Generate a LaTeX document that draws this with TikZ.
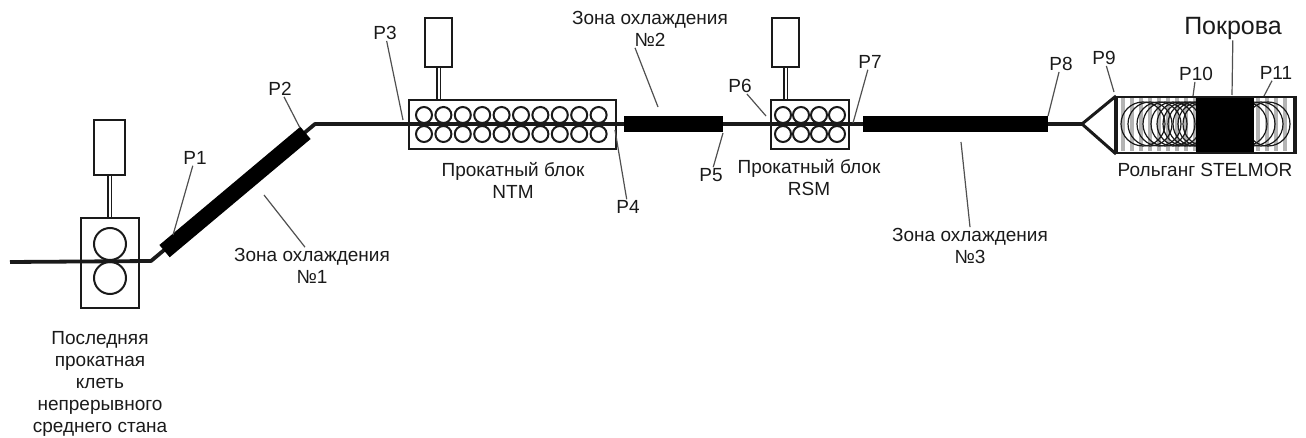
\documentclass[tikz,border=0pt]{standalone}
\usepackage{fontspec}
\setmainfont{Liberation Sans}
\usetikzlibrary{positioning,calc}
\definecolor{ink}{HTML}{1A1A1A}
\definecolor{leaderline}{HTML}{505050}
\definecolor{stripe}{HTML}{B4B4B4}
\tikzset{lbl/.style={font=\fontsize{19}{22}\selectfont,text=ink,align=center,inner sep=1pt},bigbl/.style={lbl,font=\fontsize{25}{28}\selectfont},blockbox/.style={draw=ink,line width=2pt,fill=white,inner sep=0pt,anchor=north west},motor/.style={blockbox},roll/.style={draw=ink,line width=2pt,circle,inner sep=0pt,minimum size=#1},zone/.style={draw=none,fill=black,inner sep=0pt},rod/.style={draw=ink,line width=3.8pt,line join=round},shaft/.style={draw=ink,line width=1.6pt,double=white,double distance=2pt},leader/.style={draw=leaderline,line width=1.2pt}}
\begin{document}
\begin{tikzpicture}[x=1pt,y=-1pt]
\useasboundingbox (0,0) rectangle (1306,438);
% stands and motors
\node[blockbox,minimum width=58pt,minimum height=90pt] (stand) at (80,217) {};
\node[blockbox,minimum width=207pt,minimum height=49pt] (ntm) at (408,99) {};
\node[blockbox,minimum width=78pt,minimum height=49pt] (rsm) at (770,99) {};
\node[motor,minimum width=31pt,minimum height=55pt] (motorA) at (93,119) {};
\node[motor,minimum width=27pt,minimum height=49pt] (motorB) at (424,17) {};
\node[motor,minimum width=27pt,minimum height=49pt] (motorC) at (771,17) {};
\draw[shaft] (motorA.south)--(motorA.south |- stand.north);
\draw[shaft] (motorB.south)--(motorB.south |- ntm.north);
\draw[shaft] (motorC.south)--(motorC.south |- rsm.north);
\node[roll=32pt] (rollA) at (110,244) {};
\node[roll=32pt] (rollB) at (110,278) {};
\foreach \i in {0,...,9}{
  \node[roll=16pt] (ntmt\i) at (424+19.4*\i,115) {};
  \node[roll=16pt] (ntmb\i) at (424+19.4*\i,134) {};
}
\foreach \i in {0,...,3}{
  \node[roll=16pt] (rsmt\i) at (783+18*\i,115) {};
  \node[roll=16pt] (rsmb\i) at (783+18*\i,134) {};
}
% rod and cooling zones
\coordinate (rodstart) at (10,262);
\coordinate (bendA) at (151,261);
\coordinate (bendB) at (315,124);
\coordinate (conetip) at (1082,124);
\draw[rod] (rodstart)--(bendA)--(bendB)--(conetip);
\node[zone,minimum width=184pt,minimum height=16pt,rotate=40] (zoneA) at (235,192) {};
\node[zone,minimum width=99pt,minimum height=16pt] (zoneB) at (673.5,124) {};
\node[zone,minimum width=185pt,minimum height=16pt] (zoneC) at (955.5,124) {};
% roller table
\foreach \x in {1123,1132,...,1290}{\fill[stripe] (\x-2,97) rectangle (\x+2,151);}
\foreach \x in {1143,1150,1159,1165,1173,1179,1185,1190,1195,1200,1205,1245,1253,1261,1268}{
  \draw[ink,line width=1.2pt] (\x,124) circle (22);
}
\node[zone,minimum width=58pt,minimum height=56pt,anchor=north west] (cover) at (1196,96) {};
\node[draw=ink,line width=2pt,inner sep=0pt,minimum width=177pt,minimum height=56pt,anchor=north west] (table) at (1116,96) {};
\draw[ink,line width=4pt] (table.north west)--(table.south west);
\draw[ink,line width=3pt] (table.north east)--(table.south east);
\draw[rod,line width=3pt] (table.north west)--(conetip)--(table.south west);
% labels
\node[lbl] (lblA) at (195,158) {P1};
\node[lbl] (lblB) at (280,89) {P2};
\node[lbl] (lblC) at (385,33) {P3};
\node[lbl] (lblD) at (628,207) {P4};
\node[lbl] (lblE) at (711,175) {P5};
\node[lbl] (lblF) at (740,86) {P6};
\node[lbl] (lblG) at (870,62) {P7};
\node[lbl] (lblH) at (1061,64) {P8};
\node[lbl] (lblI) at (1104,58) {P9};
\node[lbl] (lblJ) at (1196,74) {P10};
\node[lbl] (lblK) at (1276,73) {P11};
\node[bigbl] (lblcover) at (1233,28) {Покрова};
\node[lbl] (lbltable) at (1205,170) {Рольганг STELMOR};
\node[lbl] (lblntm) at (513,180) {Прокатный блок\\NTM};
\node[lbl] (lblrsm) at (809,178) {Прокатный блок\\RSM};
\node[lbl] (lblzoneA) at (312,266) {Зона охлаждения\\№1};
\node[lbl] (lblzoneB) at (650,29) {Зона охлаждения\\№2};
\node[lbl] (lblzoneC) at (970,246) {Зона охлаждения\\№3};
\node[lbl] (lblstand) at (100,384) {Последняя\\прокатная\\клеть\\непрерывного\\среднего стана};
% leaders
\coordinate (endA) at (173,235);
\coordinate (endB) at (300,128);
\coordinate (endC) at (403,120);
\coordinate (endD) at (615,130);
\coordinate (endE) at (723,133);
\coordinate (endF) at (766,116);
\coordinate (endG) at (853,123);
\coordinate (endH) at (1048,116);
\coordinate (endI) at (1114,92);
\coordinate (endJ) at (1193,96);
\coordinate (endK) at (1264,96);
\coordinate (endcover) at (1232,95);
\coordinate (endzoneA) at (264,195);
\coordinate (endzoneB) at (658,107);
\coordinate (endzoneC) at (961,142);
\foreach \a in {A,B,C,D,E,F,G,H,I,J,K,cover}{\draw[leader] (lbl\a)--(end\a);}
\draw[leader] ([xshift=-7pt]lblzoneA.north)--(endzoneA);
\draw[leader] ([xshift=-15pt]lblzoneB.south)--(endzoneB);
\draw[leader] (lblzoneC.north)--(endzoneC);
\end{tikzpicture}
\end{document}
